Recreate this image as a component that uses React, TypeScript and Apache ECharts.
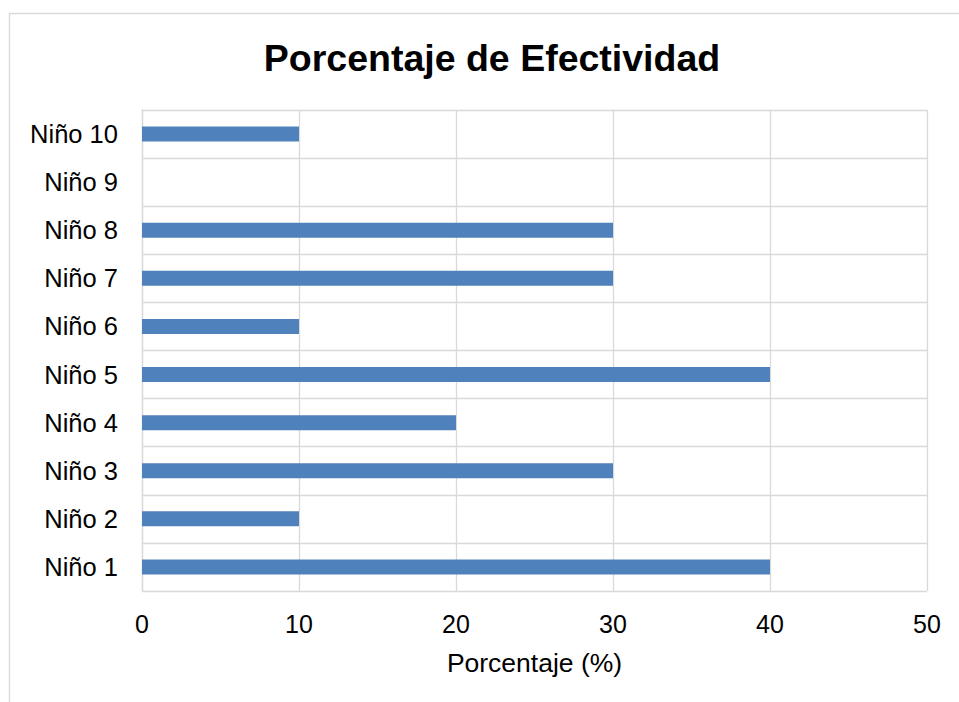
import React, { useEffect, useRef } from "react";
import * as echarts from "echarts";

const categories = ["Niño 1", "Niño 2", "Niño 3", "Niño 4", "Niño 5", "Niño 6", "Niño 7", "Niño 8", "Niño 9", "Niño 10"];
const values = [40, 10, 30, 20, 40, 10, 30, 30, 0, 10];
const xTicks = { min: 0, max: 50, interval: 10 };
const titleText = "Porcentaje de Efectividad";
const xAxisName = "Porcentaje (%)";

export default function App() {
  const ref = useRef<HTMLDivElement>(null);
  useEffect(() => {
    if (!ref.current) return;
    const chart = echarts.init(ref.current, undefined, { renderer: "svg" });
    const font = "'Liberation Sans', Arial, sans-serif";
    chart.setOption({
      animation: false,
      backgroundColor: "#ffffff",
      textStyle: { fontFamily: font },
      title: {
        text: titleText,
        left: 487,
        top: 34,
        textAlign: "center",
        textStyle: { fontFamily: font, fontSize: 37.5, fontWeight: "bold", color: "#000" },
      },
      graphic: [
        {
          type: "rect",
          shape: { x: 9.5, y: 13.5, width: 1200, height: 1200 },
          style: { fill: "none", stroke: "#d9d9d9", lineWidth: 1.3 },
          silent: true,
        },
      ],
      grid: { left: 142, right: 959 - 927, top: 110, bottom: 702 - 591, containLabel: false },
      xAxis: {
        type: "value",
        min: xTicks.min,
        max: xTicks.max,
        interval: xTicks.interval,
        name: xAxisName,
        nameLocation: "middle",
        nameGap: 58,
        nameTextStyle: { fontFamily: font, fontSize: 26.5, color: "#000" },
        axisLine: { show: false },
        axisTick: { show: false },
        axisLabel: { fontFamily: font, fontSize: 25, color: "#000", margin: 20 },
        splitLine: { show: true, lineStyle: { color: "#d9d9d9", width: 1.3 } },
      },
      yAxis: {
        type: "category",
        data: categories,
        axisLine: { show: true, lineStyle: { color: "#d9d9d9", width: 1.3 } },
        axisTick: { show: false },
        axisLabel: { fontFamily: font, fontSize: 25.5, color: "#000", margin: 24 },
        splitLine: { show: true, lineStyle: { color: "#d9d9d9", width: 1.3 } },
      },
      series: [
        {
          type: "bar",
          data: values,
          barWidth: 15,
          itemStyle: { color: "#4F81BD" },
        },
      ],
    });
    return () => chart.dispose();
  }, []);
  return (
    <div
      ref={ref}
      style={{ position: "absolute", left: 0, top: 0, width: 959, height: 702 }}
    />
  );
}
